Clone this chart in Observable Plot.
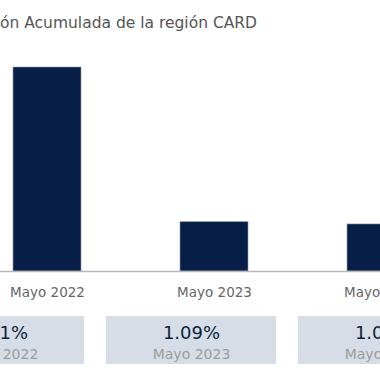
<!DOCTYPE html>
<html>
<head>
<meta charset="utf-8">
<script src="https://cdn.jsdelivr.net/npm/d3@7"></script>
<script src="https://cdn.jsdelivr.net/npm/@observablehq/plot@0.6"></script>
<style>
  html, body { margin: 0; padding: 0; background: #fff; }
  body { width: 380px; height: 380px; position: relative; overflow: hidden; font-family: "DejaVu Sans", sans-serif; }
  #title { position: absolute; left: 0; top: 0; width: 380px; white-space: nowrap; font-size: 15.5px; color: #555; line-height: 20px; padding-top: 13px; }
  #chart { position: absolute; left: 0; top: 40px; }
  #boxes { position: absolute; left: 0; top: 316px; }
</style>
</head>
<body>
<div id="title"></div>
<div id="chart"></div>
<div id="boxes"></div>
<script>
const titleText = "Inflación Acumulada de la región CARD";
const hiddenPrefix = "Inflaci";
const periods = ["Mayo 2022", "Mayo 2023", "Mayo 2024"];
const values = [4.51, 1.09, 1.04];

const data = periods.map((p, i) => ({period: p, value: values[i]}));

// Title, cropped on the left like the reference
const titleEl = document.getElementById("title");
const ctx = document.createElement("canvas").getContext("2d");
ctx.font = '15.5px "DejaVu Sans"';
const offset = ctx.measureText(hiddenPrefix).width;
titleEl.textContent = titleText;
titleEl.style.textIndent = (-offset) + "px";

const chart = Plot.plot({
  width: 380,
  height: 270,
  marginTop: 27,
  marginBottom: 39,
  marginLeft: 0,
  marginRight: 0,
  style: {fontFamily: "DejaVu Sans", background: "transparent", overflow: "hidden"},
  x: {domain: periods, range: [12, 416], paddingInner: 0.595, paddingOuter: 0, label: null},
  y: {axis: null},
  marks: [
    Plot.barY(data, {x: "period", y: "value", fill: "#071f47", stroke: "#8f98ab", strokeWidth: 0.6}),
    Plot.ruleY([0], {stroke: "#b8b8b8", strokeWidth: 1.5}),
    Plot.axisX({tickSize: 0, tickPadding: 16, fontSize: 13.5, color: "#666", label: null})
  ]
});
document.getElementById("chart").append(chart);

const boxes = Plot.plot({
  width: 380,
  height: 48,
  margin: 0,
  style: {fontFamily: "DejaVu Sans", background: "transparent", overflow: "hidden"},
  x: {domain: periods, range: [-87, 469], paddingInner: 0.112, paddingOuter: 0, axis: null},
  marks: [
    Plot.cell(data, {x: "period", fill: "#d6dde6"}),
    Plot.text(data, {x: "period", text: d => d.value.toFixed(2) + "%", frameAnchor: "top", lineAnchor: "bottom", dy: 22, fontSize: 18, fill: "#0c1f40"}),
    Plot.text(data, {x: "period", text: "period", frameAnchor: "top", lineAnchor: "bottom", dy: 42, fontSize: 14, fill: "#9c9c9c"})
  ]
});
document.getElementById("boxes").append(boxes);
</script>
</body>
</html>
